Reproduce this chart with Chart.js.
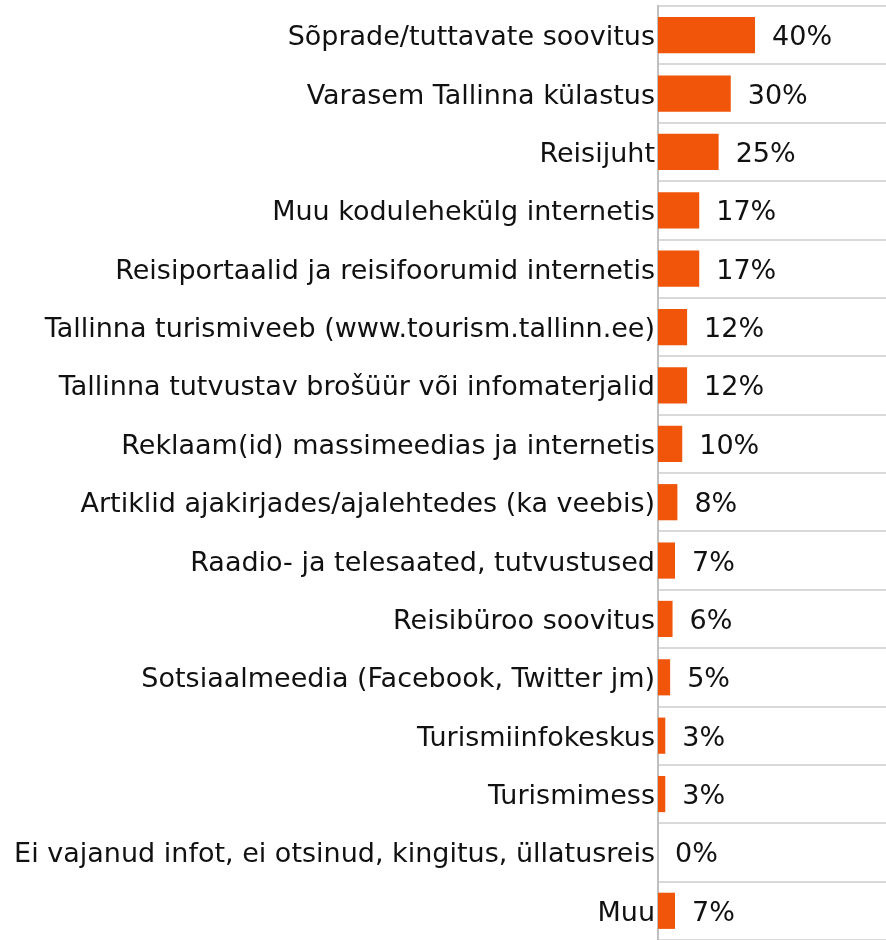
<!DOCTYPE html>
<html>
<head>
<meta charset="utf-8">
<script src="https://cdn.jsdelivr.net/npm/chart.js@4"></script>
<style>
  html, body { margin: 0; padding: 0; background: #fff; }
  #wrap { width: 886px; height: 940px; }
</style>
</head>
<body>
<div id="wrap"><canvas id="sourcesChart"></canvas></div>
<script>
const categories = [
    'Sõprade/tuttavate soovitus',
    'Varasem Tallinna külastus',
    'Reisijuht',
    'Muu kodulehekülg internetis',
    'Reisiportaalid ja reisifoorumid internetis',
    'Tallinna turismiveeb (www.tourism.tallinn.ee)',
    'Tallinna tutvustav brošüür või infomaterjalid',
    'Reklaam(id) massimeedias ja internetis',
    'Artiklid ajakirjades/ajalehtedes (ka veebis)',
    'Raadio- ja telesaated, tutvustused',
    'Reisibüroo soovitus',
    'Sotsiaalmeedia (Facebook, Twitter jm)',
    'Turismiinfokeskus',
    'Turismimess',
    'Ei vajanud infot, ei otsinud, kingitus, üllatusreis',
    'Muu'
];
const shares = [40, 30, 25, 17, 17, 12, 12, 10, 8, 7, 6, 5, 3, 3, 0, 7];

const FONT = '"DejaVu Sans", Verdana, sans-serif';

// value labels to the right of each bar
const valueLabels = {
    id: 'valueLabels',
    afterDatasetsDraw(chart) {
        const ctx = chart.ctx;
        const meta = chart.getDatasetMeta(0);
        ctx.save();
        ctx.font = '27px ' + FONT;
        ctx.fillStyle = '#111';
        ctx.textAlign = 'left';
        ctx.textBaseline = 'middle';
        meta.data.forEach((bar, i) => {
            ctx.fillText(shares[i] + '%', bar.x + 17, bar.y + 3);
        });
        ctx.restore();
    }
};

const ctx = document.getElementById('sourcesChart').getContext('2d');
const chart = new Chart(ctx, {
    type: 'bar',
    data: {
        labels: categories,
        datasets: [{
            data: shares,
            backgroundColor: '#F0550A',
            borderWidth: 0,
            categoryPercentage: 1,
            barPercentage: 0.62
        }]
    },
    options: {
        indexAxis: 'y',
        responsive: true,
        maintainAspectRatio: false,
        animation: false,
        layout: { padding: { top: 6, right: 0, bottom: 0, left: 0 } },
        plugins: {
            legend: { display: false },
            tooltip: { enabled: false }
        },
        scales: {
            x: {
                min: 0,
                max: 94,
                display: false
            },
            y: {
                afterFit: function(scale) {
                    scale.width = 658;
                    scale.paddingTop = 0;
                    scale.paddingBottom = 0;
                },
                grid: {
                    offset: true,
                    color: '#d9d9d9',
                    lineWidth: 2,
                    drawTicks: false
                },
                border: {
                    color: '#c0c0c0',
                    width: 2
                },
                ticks: {
                    color: '#111',
                    padding: 3,
                    labelOffset: 3,
                    font: { family: FONT, size: 27 }
                }
            }
        }
    },
    plugins: [valueLabels]
});
</script>
</body>
</html>
